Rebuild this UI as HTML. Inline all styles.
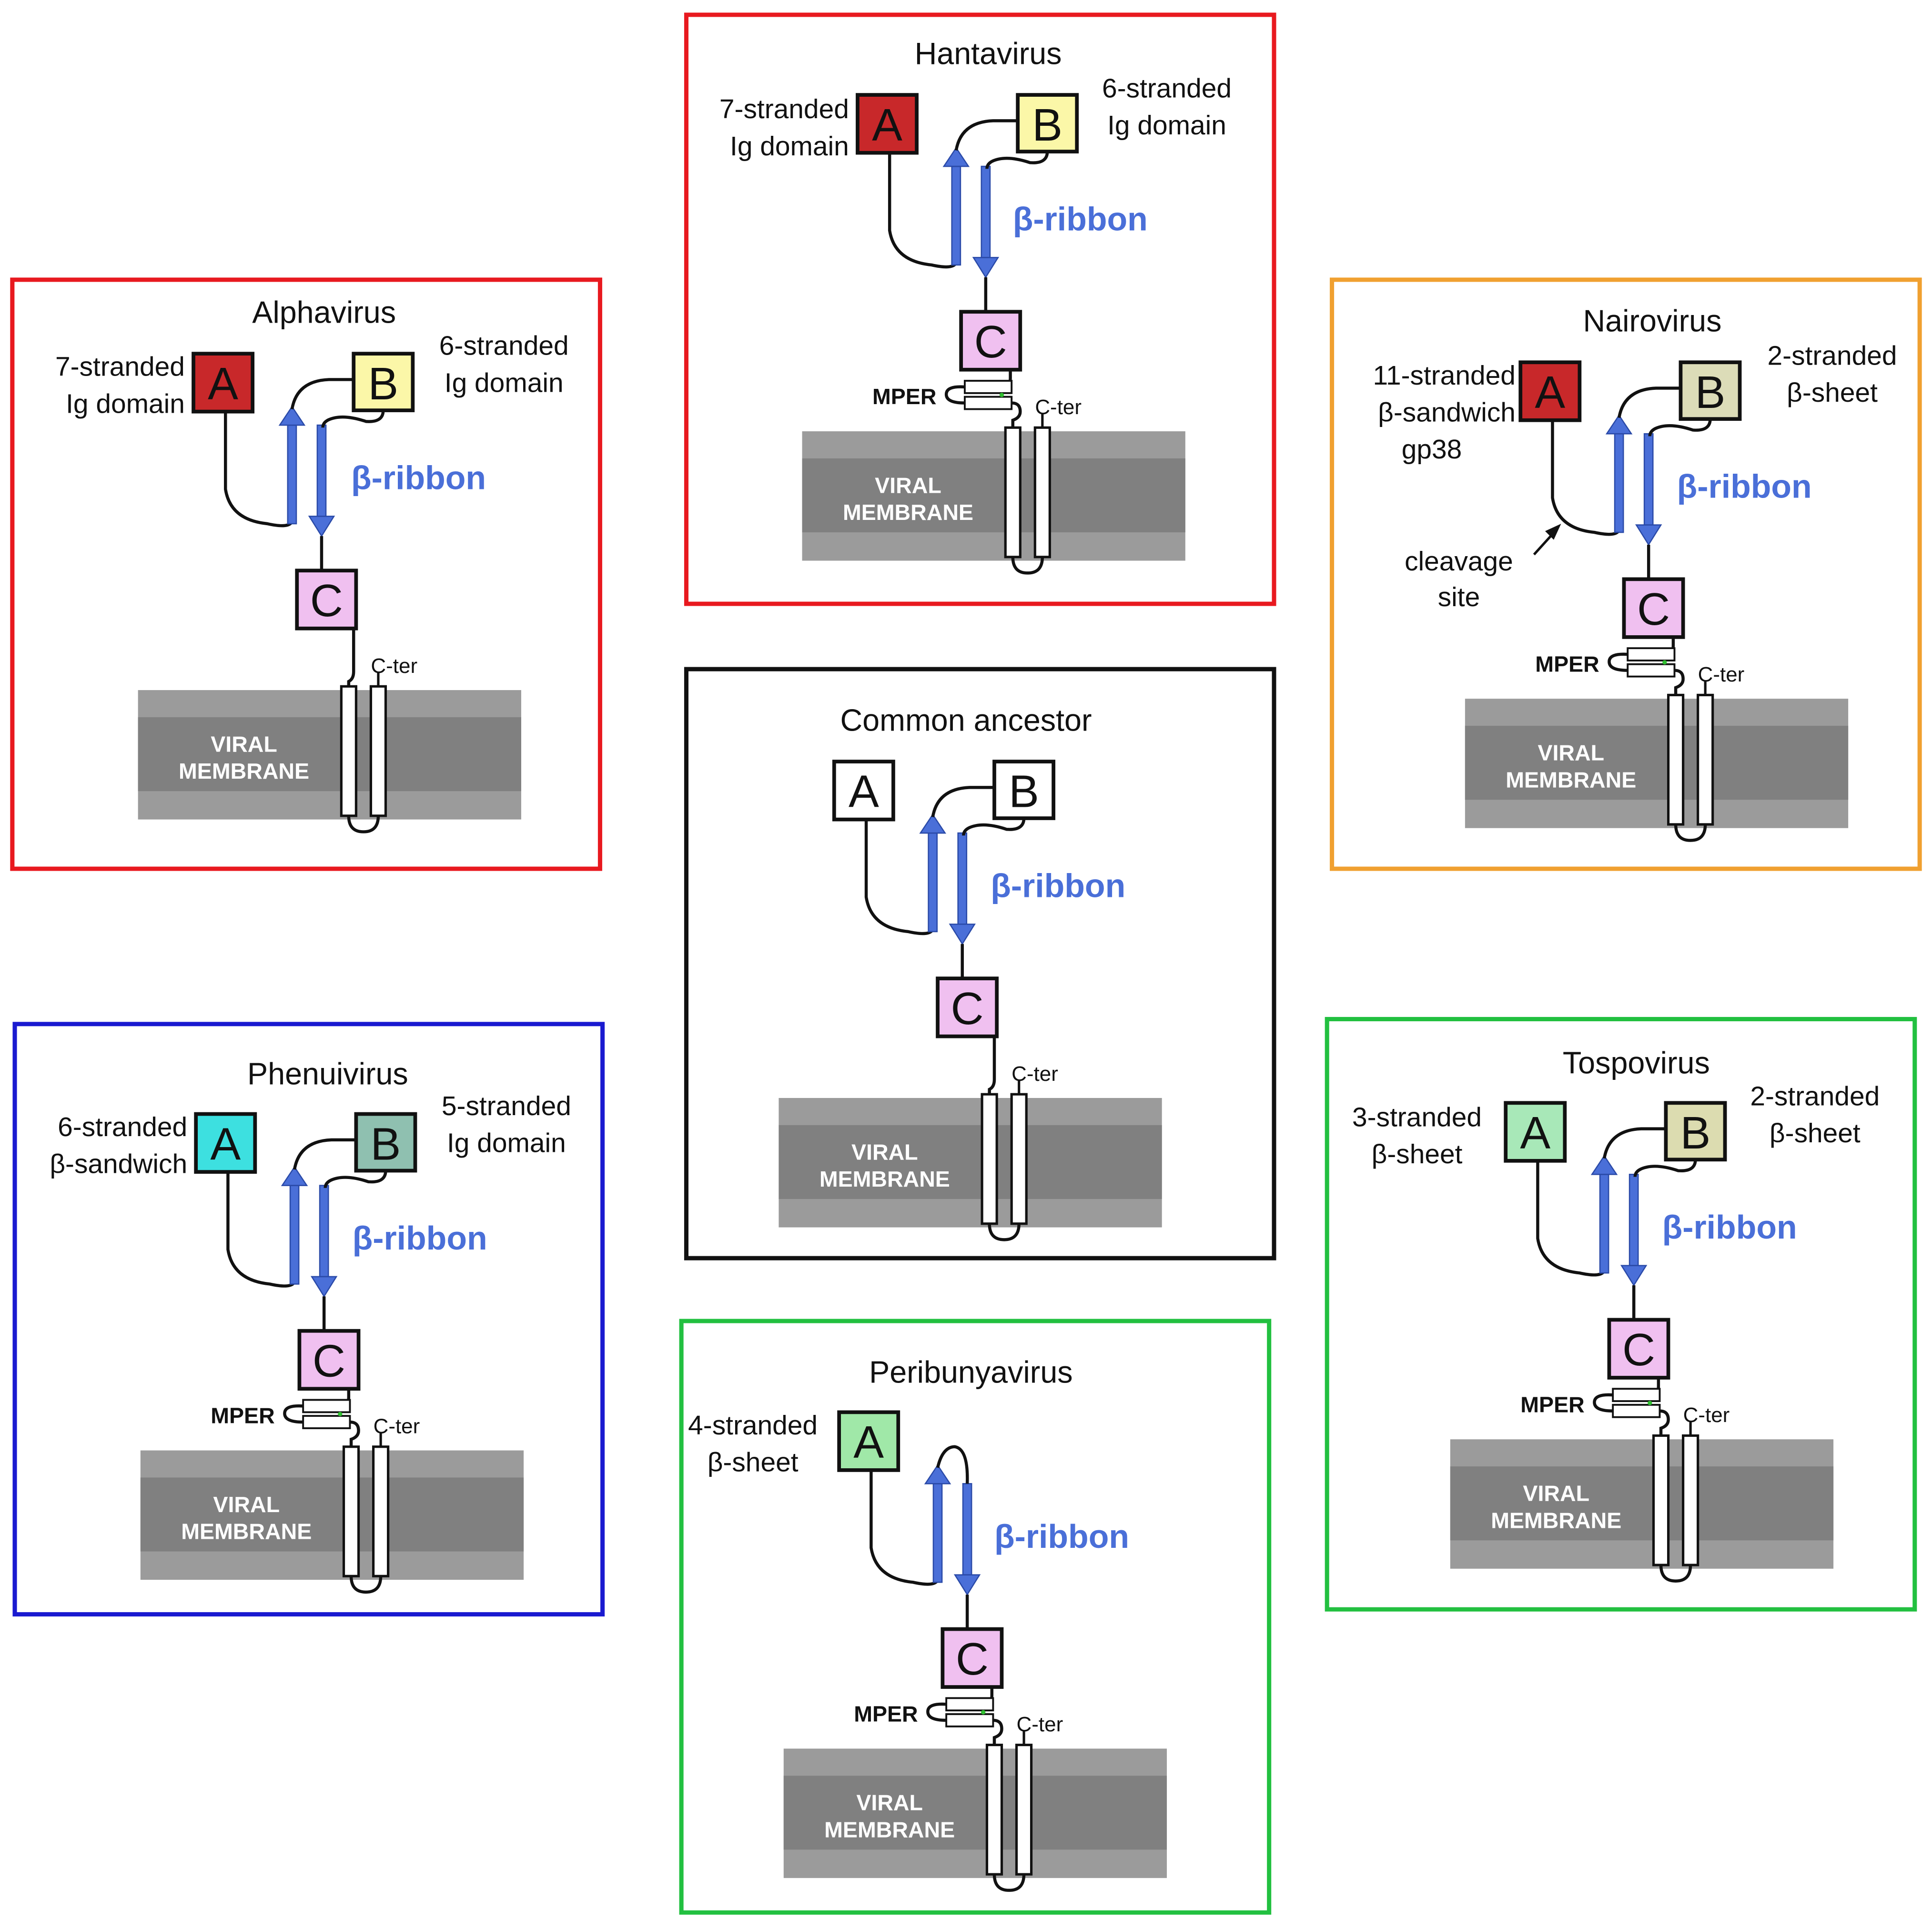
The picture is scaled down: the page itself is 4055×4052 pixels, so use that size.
<!DOCTYPE html>
<html><head><meta charset="utf-8"><style>
html,body{margin:0;padding:0;background:#fff;}
svg{display:block;}
text{font-family:"Liberation Sans",sans-serif;}
.t{font-size:25px;text-anchor:middle;fill:#111;}
.l{font-size:22px;fill:#111;}
.br{font-size:27px;font-weight:bold;fill:#4a6fd8;}
.m{font-size:18px;font-weight:bold;fill:#fff;text-anchor:middle;}
.mp{font-size:18px;font-weight:bold;fill:#111;text-anchor:end;}
.ct{font-size:17px;fill:#111;}
.bx{font-size:37px;text-anchor:middle;fill:#111;}
</style></head><body>
<svg width="4055" height="4052" viewBox="0 0 1568 1567" preserveAspectRatio="none" xmlns="http://www.w3.org/2000/svg">
<defs>
<g id="base">
  <rect x="-45" y="273" width="311" height="105" fill="#9b9b9b"/>
  <rect x="-45" y="295" width="311" height="60" fill="#808080"/>
  <path d="M26,47 L26,110 Q30,135 60,138 Q78,142 80,136" fill="none" stroke="#111" stroke-width="2.5"/>
  <rect x="76.5" y="58" width="7" height="80" fill="#4a6fd8" stroke="#2a4aa8" stroke-width="1"/>
  <polygon points="80,43 70,58 90,58" fill="#4a6fd8" stroke="#2a4aa8" stroke-width="1"/>
  <rect x="100.5" y="58" width="7" height="74" fill="#4a6fd8" stroke="#2a4aa8" stroke-width="1"/>
  <polygon points="104,148 94,132 114,132" fill="#4a6fd8" stroke="#2a4aa8" stroke-width="1"/>
  <line x1="104" y1="148" x2="104" y2="176" stroke="#111" stroke-width="2.5"/>
  <rect x="84" y="176" width="48" height="47" fill="#f0c0f0" stroke="#111" stroke-width="3"/>
  <path d="M126,375 Q126,388 138,388 Q150,388 150,375" fill="none" stroke="#111" stroke-width="2.5"/>
  <rect x="120" y="270" width="12" height="105" fill="#fff" stroke="#111" stroke-width="2"/>
  <rect x="144" y="270" width="12" height="105" fill="#fff" stroke="#111" stroke-width="2"/>
  <line x1="150" y1="270" x2="150" y2="258" stroke="#111" stroke-width="2"/>
</g>
<g id="mper">
  <path d="M124,223 L124,230 Q124,237 118,237" fill="none" stroke="#111" stroke-width="2.5"/>
  <path d="M87,237 Q72,236 72,243 Q72,250 87,250" fill="none" stroke="#111" stroke-width="2.5"/>
  <rect x="87" y="232" width="38" height="10" fill="#fff" stroke="#111" stroke-width="1.5"/>
  <rect x="87" y="245" width="38" height="10" fill="#fff" stroke="#111" stroke-width="1.5"/>
  <circle cx="117" cy="243.5" r="1.8" fill="#30c030"/>
  <path d="M125,250 Q132,250 132,257 Q132,262 126,264 L126,270" fill="none" stroke="#111" stroke-width="2.5"/>
</g>
<g id="nomper">
  <path d="M130,223 L130,258 Q130,264 126,266 L126,270" fill="none" stroke="#111" stroke-width="2.5"/>
</g>
<g id="bconn">
  <path d="M80,45 Q84,22 110,21 L130,21" fill="none" stroke="#111" stroke-width="2.5"/>
  <path d="M154,46 Q154,56 140,55 Q125,50 115,52 Q105,54 105,60" fill="none" stroke="#111" stroke-width="2.5"/>
</g>
</defs>

<rect x="10" y="227" width="477" height="478" fill="none" stroke="#e8191f" stroke-width="3.5"/>
<rect x="557" y="12" width="477" height="478" fill="none" stroke="#e8191f" stroke-width="3.5"/>
<rect x="1081" y="227" width="477" height="478" fill="none" stroke="#f0a030" stroke-width="3.5"/>
<rect x="557" y="543" width="477" height="478" fill="none" stroke="#111" stroke-width="3.5"/>
<rect x="12" y="831" width="477" height="479" fill="none" stroke="#1a1ad0" stroke-width="3.5"/>
<rect x="1077" y="827" width="477" height="479" fill="none" stroke="#22c040" stroke-width="3.5"/>
<rect x="553" y="1072" width="477" height="480" fill="none" stroke="#22c040" stroke-width="3.5"/>

<!-- Hantavirus -->
<g transform="translate(696,77)">
  <use href="#base"/><use href="#mper"/><use href="#bconn"/>
  <rect x="0" y="0" width="48" height="47" fill="#c8282a" stroke="#111" stroke-width="3"/>
  <rect x="130" y="0" width="48" height="46" fill="#fbf7a8" stroke="#111" stroke-width="3"/>
  <text class="bx" x="24" y="37">A</text><text class="bx" x="154" y="37">B</text><text class="bx" x="108" y="213">C</text>
  <text class="t" x="106" y="-25">Hantavirus</text>
  <text class="l" x="-7" y="19" text-anchor="end">7-stranded</text>
  <text class="l" x="-7" y="49" text-anchor="end">Ig domain</text>
  <text class="l" x="251" y="2" text-anchor="middle">6-stranded</text>
  <text class="l" x="251" y="32" text-anchor="middle">Ig domain</text>
  <text class="br" x="126" y="110">β-ribbon</text>
  <text class="mp" x="64" y="251">MPER</text>
  <text class="ct" x="144" y="259">C-ter</text>
  <text class="m" x="41" y="323">VIRAL</text><text class="m" x="41" y="345">MEMBRANE</text>
</g>

<!-- Alphavirus -->
<g transform="translate(157,287)">
  <use href="#base"/><use href="#nomper"/><use href="#bconn"/>
  <rect x="0" y="0" width="48" height="47" fill="#c8282a" stroke="#111" stroke-width="3"/>
  <rect x="130" y="0" width="48" height="46" fill="#fbf7a8" stroke="#111" stroke-width="3"/>
  <text class="bx" x="24" y="37">A</text><text class="bx" x="154" y="37">B</text><text class="bx" x="108" y="213">C</text>
  <text class="t" x="106" y="-25">Alphavirus</text>
  <text class="l" x="-7" y="18" text-anchor="end">7-stranded</text>
  <text class="l" x="-7" y="48" text-anchor="end">Ig domain</text>
  <text class="l" x="252" y="1" text-anchor="middle">6-stranded</text>
  <text class="l" x="252" y="31" text-anchor="middle">Ig domain</text>
  <text class="br" x="128" y="110">β-ribbon</text>
  <text class="ct" x="144" y="259">C-ter</text>
  <text class="m" x="41" y="323">VIRAL</text><text class="m" x="41" y="345">MEMBRANE</text>
</g>

<!-- Nairovirus -->
<g transform="translate(1234,294)">
  <use href="#base"/><use href="#mper"/><use href="#bconn"/>
  <rect x="0" y="0" width="48" height="47" fill="#c8282a" stroke="#111" stroke-width="3"/>
  <rect x="130" y="0" width="48" height="46" fill="#dcdcb8" stroke="#111" stroke-width="3"/>
  <text class="bx" x="24" y="37">A</text><text class="bx" x="154" y="37">B</text><text class="bx" x="108" y="213">C</text>
  <text class="t" x="107" y="-25">Nairovirus</text>
  <text class="l" x="-4" y="18" text-anchor="end">11-stranded</text>
  <text class="l" x="-4" y="48" text-anchor="end">β-sandwich</text>
  <text class="l" x="-72" y="78" text-anchor="middle">gp38</text>
  <text class="l" x="253" y="2" text-anchor="middle">2-stranded</text>
  <text class="l" x="253" y="32" text-anchor="middle">β-sheet</text>
  <text class="l" x="-50" y="169" text-anchor="middle">cleavage</text>
  <text class="l" x="-50" y="198" text-anchor="middle">site</text>
  <line x1="11" y1="156" x2="30" y2="135" stroke="#111" stroke-width="2"/>
  <polygon points="33,131 20,137 27,144" fill="#111"/>
  <text class="br" x="127" y="110">β-ribbon</text>
  <text class="mp" x="64" y="251">MPER</text>
  <text class="ct" x="144" y="259">C-ter</text>
  <text class="m" x="41" y="323">VIRAL</text><text class="m" x="41" y="345">MEMBRANE</text>
</g>

<!-- Common ancestor -->
<g transform="translate(677,618)">
  <use href="#base"/><use href="#nomper"/><use href="#bconn"/>
  <rect x="0" y="0" width="48" height="47" fill="#fff" stroke="#111" stroke-width="3"/>
  <rect x="130" y="0" width="48" height="46" fill="#fff" stroke="#111" stroke-width="3"/>
  <text class="bx" x="24" y="37">A</text><text class="bx" x="154" y="37">B</text><text class="bx" x="108" y="213">C</text>
  <text class="t" x="107" y="-25">Common ancestor</text>
  <text class="br" x="127" y="110">β-ribbon</text>
  <text class="ct" x="144" y="259">C-ter</text>
  <text class="m" x="41" y="323">VIRAL</text><text class="m" x="41" y="345">MEMBRANE</text>
</g>

<!-- Phenuivirus -->
<g transform="translate(159,904)">
  <use href="#base"/><use href="#mper"/><use href="#bconn"/>
  <rect x="0" y="0" width="48" height="47" fill="#3de0e0" stroke="#111" stroke-width="3"/>
  <rect x="130" y="0" width="48" height="46" fill="#8fc0b0" stroke="#111" stroke-width="3"/>
  <text class="bx" x="24" y="37">A</text><text class="bx" x="154" y="37">B</text><text class="bx" x="108" y="213">C</text>
  <text class="t" x="107" y="-24">Phenuivirus</text>
  <text class="l" x="-7" y="18" text-anchor="end">6-stranded</text>
  <text class="l" x="-7" y="48" text-anchor="end">β-sandwich</text>
  <text class="l" x="252" y="1" text-anchor="middle">5-stranded</text>
  <text class="l" x="252" y="31" text-anchor="middle">Ig domain</text>
  <text class="br" x="127" y="110">β-ribbon</text>
  <text class="mp" x="64" y="251">MPER</text>
  <text class="ct" x="144" y="259">C-ter</text>
  <text class="m" x="41" y="323">VIRAL</text><text class="m" x="41" y="345">MEMBRANE</text>
</g>

<!-- Tospovirus -->
<g transform="translate(1222,895)">
  <use href="#base"/><use href="#mper"/><use href="#bconn"/>
  <rect x="0" y="0" width="48" height="47" fill="#a8e8b8" stroke="#111" stroke-width="3"/>
  <rect x="130" y="0" width="48" height="46" fill="#dcdcb0" stroke="#111" stroke-width="3"/>
  <text class="bx" x="24" y="37">A</text><text class="bx" x="154" y="37">B</text><text class="bx" x="108" y="213">C</text>
  <text class="t" x="106" y="-24">Tospovirus</text>
  <text class="l" x="-72" y="19" text-anchor="middle">3-stranded</text>
  <text class="l" x="-72" y="49" text-anchor="middle">β-sheet</text>
  <text class="l" x="251" y="2" text-anchor="middle">2-stranded</text>
  <text class="l" x="251" y="32" text-anchor="middle">β-sheet</text>
  <text class="br" x="127" y="110">β-ribbon</text>
  <text class="mp" x="64" y="251">MPER</text>
  <text class="ct" x="144" y="259">C-ter</text>
  <text class="m" x="41" y="323">VIRAL</text><text class="m" x="41" y="345">MEMBRANE</text>
</g>

<!-- Peribunyavirus -->
<g transform="translate(681,1146)">
  <use href="#base"/><use href="#mper"/>
  <path d="M80,45 Q84,28 94,28 Q105,30 104,58" fill="none" stroke="#111" stroke-width="2.5"/>
  <rect x="0" y="0" width="48" height="47" fill="#a0e8a8" stroke="#111" stroke-width="3"/>
  <text class="bx" x="24" y="37">A</text><text class="bx" x="108" y="213">C</text>
  <text class="t" x="107" y="-24">Peribunyavirus</text>
  <text class="l" x="-70" y="18" text-anchor="middle">4-stranded</text>
  <text class="l" x="-70" y="48" text-anchor="middle">β-sheet</text>
  <text class="br" x="126" y="110">β-ribbon</text>
  <text class="mp" x="64" y="251">MPER</text>
  <text class="ct" x="144" y="259">C-ter</text>
  <text class="m" x="41" y="323">VIRAL</text><text class="m" x="41" y="345">MEMBRANE</text>
</g>
</svg>
</body></html>
